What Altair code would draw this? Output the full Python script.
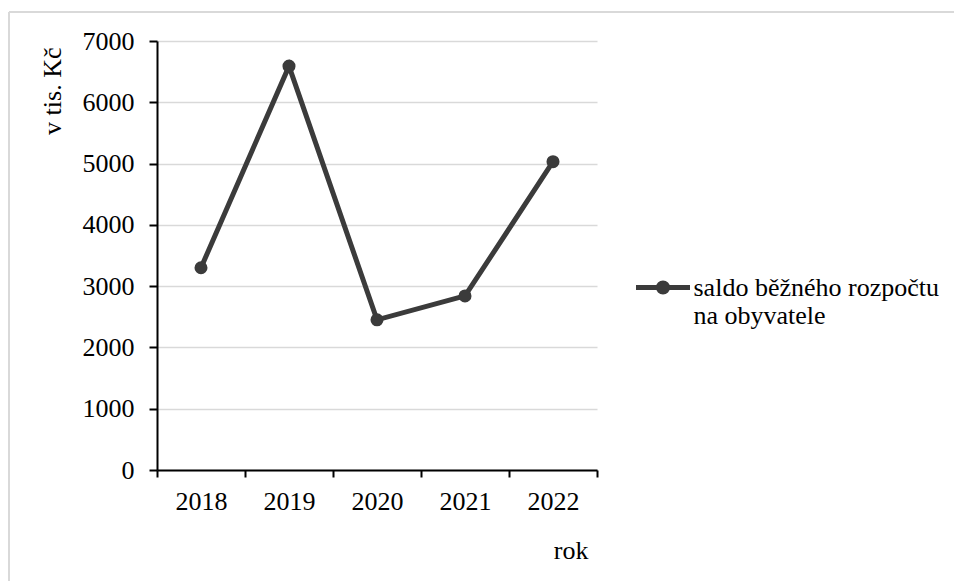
import altair as alt
import pandas as pd

years = ["2018", "2019", "2020", "2021", "2022"]
values = [3300, 6590, 2450, 2840, 5030]
series_name = "saldo běžného rozpočtu|na obyvatele"
y_ticks = [0, 1000, 2000, 3000, 4000, 5000, 6000, 7000]

df = pd.DataFrame({"rok": years, "hodnota": values, "serie": [series_name] * len(years)})

FONT = "Liberation Serif"
COLOR = "#3b3b3b"
FS = 26

symbol_path = "M-1,0H1M0.17,0A0.17,0.17,0,1,1,-0.17,0A0.17,0.17,0,1,1,0.17,0Z"

line = alt.Chart(df).mark_line(
    strokeWidth=5,
    point=alt.OverlayMarkDef(filled=True, size=170, opacity=1),
).encode(
    x=alt.X(
        "rok:N",
        sort=years,
        bandPosition=0.5,
        scale=alt.Scale(type="band", paddingInner=0, paddingOuter=0),
        axis=alt.Axis(
            title="rok", labelAngle=0, tickBand="extent", grid=False,
            domainColor="black", domainWidth=2, tickColor="black", tickWidth=2, tickSize=7,
            labelPadding=11, labelFont=FONT, labelFontSize=FS, labelColor="black",
            titleFont=FONT, titleFontSize=FS, titleFontWeight="normal", titleColor="black",
            titleAlign="right", titleX=431, titleY=88, titleBaseline="alphabetic",
        ),
    ),
    y=alt.Y(
        "hodnota:Q",
        scale=alt.Scale(domain=[0, 7000], nice=False),
        axis=alt.Axis(
            values=y_ticks, format="d", title="v tis. Kč",
            domainColor="black", domainWidth=2, tickColor="black", tickWidth=2, tickSize=8,
            gridColor="#d9d9d9", gridWidth=1.5,
            labelPadding=15, labelFont=FONT, labelFontSize=FS, labelColor="black",
            titleFont=FONT, titleFontSize=FS, titleFontWeight="normal", titleColor="black",
            titleAlign="right", titleBaseline="alphabetic", titleX=-97, titleY=6,
        ),
    ),
    color=alt.Color(
        "serie:N",
        scale=alt.Scale(range=[COLOR]),
        legend=alt.Legend(
            title=None, orient="none", legendX=476.5, legendY=217, padding=0,
            symbolType=symbol_path, symbolSize=2916, symbolStrokeWidth=5,
            symbolFillColor=COLOR, symbolStrokeColor=COLOR,
            labelFont=FONT, labelFontSize=FS, labelColor="black", labelLimit=500,
            labelOffset=1, labelBaseline="middle",
            labelExpr="split(datum.label, '|')",
        ),
    ),
)

frame_df = pd.DataFrame({"k": [0]})
top_border = alt.Chart(frame_df).mark_rule(color="#d9d9d9", strokeWidth=2).encode(
    x=alt.value(-148), x2=alt.value(800), y=alt.value(-29)
)
left_border = alt.Chart(frame_df).mark_rule(color="#d9d9d9", strokeWidth=2).encode(
    x=alt.value(-148), y=alt.value(-29), y2=alt.value(560)
)

chart = alt.layer(top_border, left_border, line).properties(
    width=440,
    height=429,
    autosize=alt.AutoSizeParams(type="none"),
    padding={"left": 157, "top": 41, "right": 357, "bottom": 111},
).configure(
    background="white"
).configure_view(
    stroke=None
)

chart.save("out.html", embed_options={"renderer": "svg", "actions": False})
